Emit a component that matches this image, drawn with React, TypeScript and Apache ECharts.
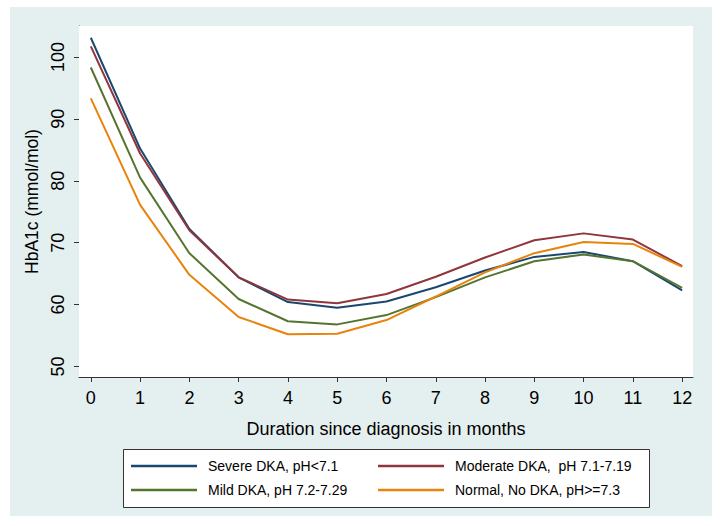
import React, { useEffect, useRef } from "react";
import * as echarts from "echarts";

const months = [0, 1, 2, 3, 4, 5, 6, 7, 8, 9, 10, 11, 12];
const severe = [103.1, 85.2, 72.2, 64.4, 60.4, 59.5, 60.5, 62.8, 65.5, 67.7, 68.5, 67.0, 62.3];
const moderate = [101.7, 84.4, 72.0, 64.4, 60.8, 60.2, 61.7, 64.5, 67.6, 70.4, 71.5, 70.5, 66.2];
const mild = [98.3, 80.5, 68.3, 60.9, 57.3, 56.8, 58.3, 61.2, 64.4, 67.0, 68.1, 67.0, 62.7];
const normal = [93.3, 76.1, 64.8, 58.0, 55.2, 55.3, 57.5, 61.3, 65.2, 68.3, 70.1, 69.8, 66.1];
const yTicks = [50, 60, 70, 80, 90, 100];
const seriesNames = [
  "Severe DKA, pH<7.1",
  "Moderate DKA,  pH 7.1-7.19",
  "Mild DKA, pH 7.2-7.29",
  "Normal, No DKA, pH>=7.3",
];
const seriesValues = [severe, moderate, mild, normal];
const colors = ["#1a476f", "#90353b", "#55752f", "#e8830c"];

const FONT = "'Liberation Sans', Arial, sans-serif";

export default function App() {
  const ref = useRef<HTMLDivElement>(null);
  useEffect(() => {
    if (!ref.current) return;
    const chart = echarts.init(ref.current, undefined, { renderer: "svg" });
    const legendPos = [
      { left: 131, top: 459 },
      { left: 378, top: 459 },
      { left: 131, top: 483 },
      { left: 378, top: 483 },
    ];
    chart.setOption({
      animation: false,
      backgroundColor: "#ffffff",
      textStyle: { fontFamily: FONT },
      graphic: [
        {
          type: "rect",
          z: -10,
          shape: { x: 10, y: 7, width: 702, height: 509 },
          style: { fill: "#e4efef" },
          silent: true,
        },
        {
          type: "rect",
          z: 5,
          shape: { x: 123.5, y: 449.5, width: 526, height: 58 },
          style: { fill: "#ffffff", stroke: "#333333", lineWidth: 1 },
          silent: true,
        },
      ],
      legend: seriesNames.map((name, i) => ({
        data: [name],
        left: legendPos[i].left,
        top: legendPos[i].top,
        padding: 0,
        icon: "rect",
        itemWidth: 66,
        itemHeight: 2.5,
        z: 10,
        selectedMode: false,
        textStyle: {
          fontFamily: FONT,
          fontSize: 14,
          color: "#000000",
          padding: [0, 0, 0, 6],
        },
      })),
      grid: {
        left: 79,
        right: 30,
        top: 26,
        bottom: 149,
        show: true,
        backgroundColor: "#ffffff",
        borderWidth: 0,
        z: 1,
      },
      xAxis: {
        type: "value",
        min: -0.24,
        max: 12.22,
        name: "Duration since diagnosis in months",
        nameLocation: "middle",
        nameGap: 43,
        nameTextStyle: { fontFamily: FONT, fontSize: 18, color: "#000000" },
        axisLine: { show: true, onZero: false, lineStyle: { color: "#333333", width: 1 } },
        axisTick: { show: true, length: 5, lineStyle: { color: "#333333" }, customValues: months },
        axisLabel: {
          customValues: months,
          fontFamily: FONT,
          fontSize: 18,
          color: "#000000",
          margin: 12,
        },
        splitLine: { show: false },
      },
      yAxis: {
        type: "value",
        min: 48.3,
        max: 105,
        name: "HbA1c (mmol/mol)",
        nameLocation: "middle",
        nameGap: 27,
        nameRotate: 90,
        nameTextStyle: { fontFamily: FONT, fontSize: 17.5, color: "#000000" },
        axisLine: { show: true, onZero: false, lineStyle: { color: "#333333", width: 1 } },
        axisTick: { show: true, length: 5, lineStyle: { color: "#333333" }, customValues: yTicks },
        axisLabel: {
          customValues: yTicks,
          rotate: 90,
          fontFamily: FONT,
          fontSize: 18,
          color: "#000000",
          margin: 12,
        },
        splitLine: { show: true, lineStyle: { color: "#e6eff0", width: 1 } },
      },
      series: seriesNames.map((name, i) => ({
        name,
        type: "line",
        data: months.map((m, j) => [m, seriesValues[i][j]]),
        showSymbol: false,
        symbol: "none",
        color: colors[i],
        lineStyle: { color: colors[i], width: 2 },
        z: 3,
      })),
    });
    return () => chart.dispose();
  }, []);
  return (
    <div
      ref={ref}
      style={{ position: "absolute", left: 0, top: 0, width: 723, height: 526 }}
    />
  );
}
